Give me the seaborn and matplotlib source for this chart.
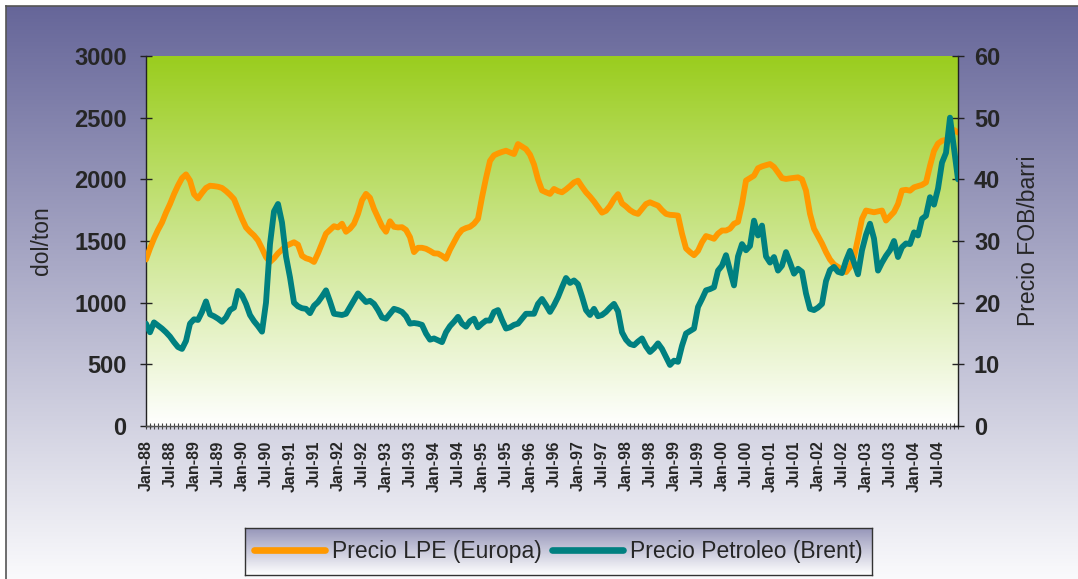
import numpy as np
import pandas as pd
import matplotlib
matplotlib.use('Agg')
import matplotlib.pyplot as plt
import seaborn as sns
from matplotlib.lines import Line2D

# monthly series Jan-88 .. Dec-04, one row per year
lpe_price = [
    1350, 1440, 1520, 1590, 1650, 1730, 1800, 1880, 1950, 2010, 2040, 1990,  # 1988
    1880, 1845, 1890, 1930, 1948, 1945, 1940, 1930, 1905, 1875, 1840, 1760,  # 1989
    1680, 1610, 1575, 1545, 1505, 1440, 1370, 1330, 1360, 1400, 1430, 1460,  # 1990
    1475, 1490, 1470, 1380, 1360, 1350, 1330, 1400, 1480, 1560, 1590, 1620,  # 1991
    1610, 1640, 1575, 1600, 1640, 1720, 1830, 1882, 1850, 1760, 1690, 1620,  # 1992
    1575, 1660, 1615, 1610, 1612, 1590, 1531, 1410, 1445, 1445, 1437, 1420,  # 1993
    1400, 1398, 1380, 1356, 1430, 1490, 1550, 1590, 1605, 1615, 1640, 1680,  # 1994
    1854, 2010, 2150, 2195, 2210, 2222, 2232, 2218, 2205, 2286, 2265, 2245,  # 1995
    2200, 2120, 2000, 1910, 1895, 1882, 1922, 1905, 1895, 1918, 1945, 1975,  # 1996
    1989, 1940, 1895, 1860, 1820, 1775, 1730, 1745, 1785, 1840, 1880, 1805,  # 1997
    1780, 1750, 1730, 1720, 1760, 1800, 1814, 1800, 1787, 1750, 1720, 1712,  # 1998
    1710, 1706, 1560, 1440, 1410, 1385, 1420, 1490, 1540, 1530, 1518, 1560,  # 1999
    1585, 1585, 1600, 1640, 1655, 1800, 1990, 2010, 2030, 2090, 2105, 2115,  # 2000
    2124, 2100, 2056, 2010, 2003, 2008, 2012, 2016, 2000, 1908, 1720, 1600,  # 2001
    1540, 1480, 1410, 1350, 1310, 1290, 1265, 1248, 1290, 1370, 1520, 1680,  # 2002
    1747, 1740, 1733, 1740, 1747, 1666, 1700, 1735, 1800, 1910, 1915, 1908,  # 2003
    1935, 1945, 1955, 1975, 2110, 2230, 2290, 2313, 2320, 2340, 2400, 2380,  # 2004
]

brent_price = [
    16.6, 15.2, 16.8, 16.3, 15.8, 15.2, 14.5, 13.6, 12.8, 12.5, 13.8, 16.6,  # 1988
    17.3, 17.2, 18.5, 20.2, 18.1, 17.8, 17.4, 16.9, 17.6, 18.8, 19.2, 21.9,  # 1989
    21.2, 19.8, 18.0, 17.0, 16.2, 15.3, 20.0, 29.5, 34.8, 36.0, 33.0, 27.5,  # 1990
    24.1, 20.0, 19.4, 19.1, 19.0, 18.3, 19.5, 20.1, 21.0, 22.0, 20.2, 18.2,  # 1991
    18.1, 18.0, 18.2, 19.3, 20.4, 21.5, 20.8, 20.1, 20.3, 19.8, 18.8, 17.6,  # 1992
    17.4, 18.2, 19.0, 18.8, 18.5, 17.8, 16.6, 16.7, 16.6, 16.4, 15.0, 14.0,  # 1993
    14.2, 13.9, 13.6, 15.2, 16.2, 16.9, 17.7, 16.6, 16.1, 17.0, 17.4, 16.0,  # 1994
    16.6, 17.1, 17.1, 18.5, 18.8, 17.2, 15.8, 16.0, 16.4, 16.6, 17.4, 18.2,  # 1995
    18.2, 18.2, 19.8, 20.6, 19.6, 18.5, 19.6, 20.9, 22.5, 24.0, 23.2, 23.6,  # 1996
    23.0, 21.0, 18.8, 18.0, 19.0, 17.8, 18.0, 18.5, 19.2, 19.8, 18.6, 15.2,  # 1997
    14.0, 13.3, 13.1, 13.7, 14.2, 12.9, 12.0, 12.6, 13.4, 12.5, 11.2, 9.9,   # 1998
    10.6, 10.4, 13.0, 15.0, 15.4, 15.8, 19.3, 20.6, 22.0, 22.2, 22.5, 25.2,  # 1999
    26.0, 27.7, 25.2, 22.8, 27.5, 29.5, 28.5, 29.2, 33.3, 30.9, 32.5, 27.5,  # 2000
    26.5, 27.4, 25.2, 26.0, 28.2, 26.5, 24.7, 25.5, 25.0, 21.5, 19.0, 18.8,  # 2001
    19.2, 19.8, 23.5, 25.3, 25.8, 25.0, 24.8, 26.8, 28.4, 26.5, 24.6, 28.5,  # 2002
    31.0, 32.8, 30.4, 25.2, 26.5, 27.6, 28.5, 30.0, 27.4, 29.0, 29.6, 29.5,  # 2003
    31.4, 30.9, 33.6, 34.1, 37.1, 35.9, 38.5, 42.7, 44.3, 50.0, 45.0, 40.0,  # 2004
]

months = pd.date_range('1988-01-01', periods=len(lpe_price), freq='MS')
month_labels = [m.strftime('%b-%y') for m in months]
series_names = ['Precio LPE (Europa)', 'Precio Petroleo (Brent)']
left_ticks = [0, 500, 1000, 1500, 2000, 2500, 3000]
right_ticks = [0, 10, 20, 30, 40, 50, 60]

df = pd.DataFrame({'idx': np.arange(len(months)), 'lpe': lpe_price, 'brent': brent_price})

sns.set_theme(style='white')
plt.rcParams['font.family'] = ['Liberation Sans', 'DejaVu Sans']

W, H = 1078, 579
fig = plt.figure(figsize=(W / 100, H / 100), dpi=100)
fig.patch.set_facecolor('white')


def vgrad(top, bottom, n=256):
    t = np.linspace(0, 1, n)[:, None, None]
    top = np.array(top, dtype=float)[None, None, :] / 255
    bottom = np.array(bottom, dtype=float)[None, None, :] / 255
    return top + (bottom - top) * t


# outer panel with purple -> white gradient
bg = fig.add_axes([6 / W, 0, 1 - 6 / W, 1 - 6 / H], zorder=-10)
bg.imshow(vgrad((102, 102, 153), (250, 250, 252)), extent=[0, 1, 0, 1], aspect='auto')
bg.set_xlim(0, 1)
bg.set_ylim(0, 1)
bg.set_xticks([])
bg.set_yticks([])
for side in ['right', 'bottom']:
    bg.spines[side].set_visible(False)
for side in ['left', 'top']:
    bg.spines[side].set_color('#555555')
    bg.spines[side].set_linewidth(1.2)

# plot area
ax = fig.add_axes([146 / W, 1 - 426 / H, 812 / W, 370 / H])
n_last = len(months) - 1
ax.imshow(vgrad((154, 205, 30), (255, 255, 255)), extent=[0, n_last, 0, 3000],
          aspect='auto', zorder=0)

sns.lineplot(data=df, x='idx', y='lpe', ax=ax, color='#ff9900', linewidth=4.2, zorder=3)
ax.set_xlim(0, n_last)
ax.set_ylim(0, 3000)
ax.set_yticks(left_ticks)
ax.set_yticklabels([str(v) for v in left_ticks], fontsize=17, fontweight='bold')
ax.set_xticks(range(0, len(months), 6))
ax.set_xticklabels(month_labels[::6], rotation=90, fontsize=11.5, fontweight='bold')
ax.set_xticks(range(len(months)), minor=True)
ax.tick_params(axis='y', direction='inout', length=9, width=1, color='#222222', pad=9.5)
ax.tick_params(axis='x', which='both', direction='inout', length=5, width=0.8,
               color='#444444', pad=8, bottom=True)
ax.set_xlabel('')
ax.set_ylabel('dol/ton', fontsize=16.5)
ax.yaxis.set_label_coords(-0.115, 0.5)
ax.spines['top'].set_visible(False)
ax.spines['right'].set_visible(False)
ax.spines['left'].set_color('#222222')
ax.spines['bottom'].set_color('#555555')
for side in ['left', 'bottom']:
    ax.spines[side].set_linewidth(1)
    ax.spines[side].set_visible(True)

ax2 = ax.twinx()
sns.lineplot(data=df, x='idx', y='brent', ax=ax2, color='#008080', linewidth=4.2, zorder=4)
ax2.set_ylim(0, 60)
ax2.set_yticks(right_ticks)
ax2.set_yticklabels([str(v) for v in right_ticks], fontsize=17, fontweight='bold')
ax2.tick_params(axis='y', direction='inout', length=9, width=1, color='#222222', pad=7)
ax2.set_ylabel('Precio FOB/barri', fontsize=16.5)
ax2.yaxis.set_label_coords(1.073, 0.5)
ax2.set_xlim(0, n_last)
for side in ['top', 'left', 'bottom']:
    ax2.spines[side].set_visible(False)
ax2.spines['right'].set_visible(True)
ax2.spines['right'].set_color('#222222')
ax2.spines['right'].set_linewidth(1)

# legend box with its own gradient
lax = fig.add_axes([245 / W, 1 - 575 / H, 627 / W, 47 / H])
lax.imshow(vgrad((150, 150, 185), (255, 255, 255)), extent=[0, 1, 0, 1], aspect='auto')
lax.set_xlim(0, 1)
lax.set_ylim(0, 1)
lax.set_xticks([])
lax.set_yticks([])
for sp in lax.spines.values():
    sp.set_visible(True)
    sp.set_color('#333333')
    sp.set_linewidth(1)
handles = [Line2D([], [], color='#ff9900', linewidth=4.8),
           Line2D([], [], color='#008080', linewidth=4.8)]
lax.legend(handles, series_names, loc='center', ncol=2, frameon=False, fontsize=16.5,
           handlelength=3.1, handletextpad=0.3, columnspacing=0.45,
           borderaxespad=0, borderpad=0)

fig.savefig('out.png', dpi=100)
